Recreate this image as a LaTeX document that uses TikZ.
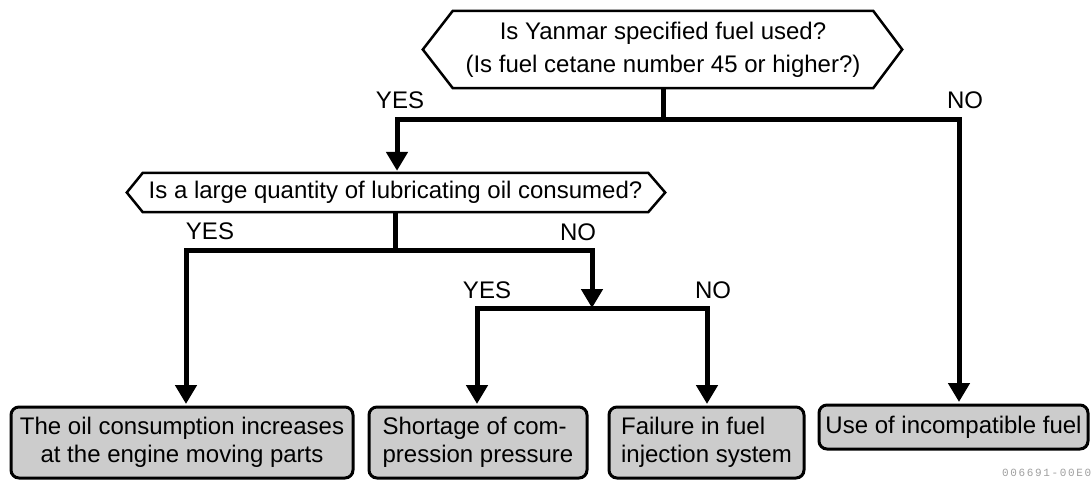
\documentclass[tikz,border=0pt]{standalone}
\usepackage{fontspec}
\setmainfont{Liberation Sans}
\newfontfamily\codefont[LetterSpace=15]{Liberation Mono}
\usetikzlibrary{arrows.meta,calc}
\begin{document}
\begin{tikzpicture}[x=1pt,y=-1pt,
  font=\fontsize{24}{28}\selectfont,
  conn/.style={line width=5pt},
  tipboth/.style={{Triangle[width=21pt,length=19pt]}-{Triangle[width=21pt,length=19pt]}},
  quest/.style={inner sep=0pt, align=center},
  hexline/.style={draw, line width=2.5pt, line join=miter},
  result/.style={draw, line width=3pt, rounded corners=8pt, fill=gray!40, inner sep=0pt},
  lbl/.style={inner sep=0pt}
]
\useasboundingbox (0,0) rectangle (1091,480);

% decision 1
\node[quest, minimum width=420pt, minimum height=77pt, font=\fontsize{24}{33}\selectfont] (h1) at (663,49.5)
  {Is Yanmar specified fuel used?\\(Is fuel cetane number 45 or higher?)};
\draw[hexline] (h1.north west) -- (h1.north east) -- ($(h1.east)+(29,0)$) -- (h1.south east)
  -- (h1.south west) -- ($(h1.west)+(-30,0)$) -- cycle;

% decision 2
\node[quest, minimum width=505pt, minimum height=39pt] (h2) at (395.5,192.5)
  {Is a large quantity of lubricating oil consumed?};
\draw[hexline] (h2.north west) -- (h2.north east) -- ($(h2.east)+(17,0)$) -- (h2.south east)
  -- (h2.south west) -- ($(h2.west)+(-16,0)$) -- cycle;

% results
\node[result, minimum width=342pt, minimum height=71pt, align=center] (b1) at (182,442.5)
  {The oil consumption increases\\at the engine moving parts};
\node[result, minimum width=218pt, minimum height=71pt, align=left] (b2) at (478,442.5)
  {Shortage of com-\\pression pressure};
\node[result, minimum width=195pt, minimum height=71pt, align=left] (b3) at (706.5,442.5)
  {Failure in fuel\\injection system};
\node[result, minimum width=269pt, minimum height=44pt] (b4) at (953.5,427)
  {Use of incompatible fuel};

% junctions
\coordinate (j1) at (663,119);
\coordinate (j2) at (395.5,250);
\coordinate (j3) at (592,308);

% connectors
\draw[conn] (h1.south) -- (j1);
\draw[conn, tipboth] ($(h2.north)+(1.5,-2)$) |- (j1) -| ($(b4.north)+(5.5,-1.5)$);
\draw[conn] (h2.south) -- (j2);
\draw[conn, tipboth] ($(b1.north)+(4,-1.5)$) |- (j2) -| (j3);
\draw[conn, tipboth] ($(b2.north)+(-1,-1.5)$) |- (j3) -| ($(b3.north)+(0.5,-1.5)$);

% labels
\node[lbl] (y1) at (400,100) {YES};
\node[lbl] (n1) at (965,100) {NO};
\node[lbl] (y2) at (210,231) {YES};
\node[lbl] (n2) at (578,232) {NO};
\node[lbl] (y3) at (487,290) {YES};
\node[lbl] (n3) at (713,290) {NO};

\node[lbl, anchor=west, font=\codefont\fontsize{11}{13}\selectfont, text=gray!75] (code) at (1002,473) {006691-00E0};
\end{tikzpicture}
\end{document}
